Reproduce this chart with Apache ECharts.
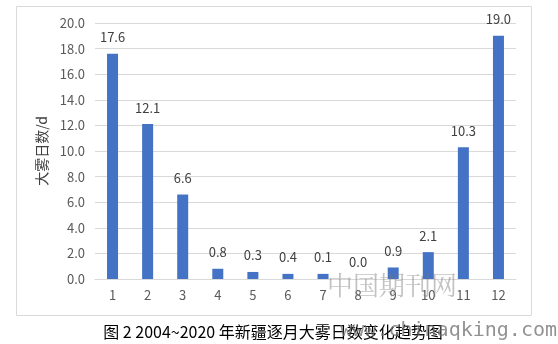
<!DOCTYPE html>
<html>
<head>
<meta charset="utf-8">
<script src="https://cdn.jsdelivr.net/npm/echarts@6/dist/echarts.min.js"></script>
<style>html,body{margin:0;padding:0;background:#fff;}#c{width:558px;height:344px;}</style>
</head>
<body>
<div id="c"></div>
<script>
var categories = ['1','2','3','4','5','6','7','8','9','10','11','12'];
var barValues = [17.6, 12.1, 6.6, 0.8, 0.55, 0.4, 0.4, 0.0, 0.9, 2.1, 10.3, 19.0];
var labelValues = [17.6, 12.1, 6.6, 0.8, 0.3, 0.4, 0.1, 0.0, 0.9, 2.1, 10.3, 19.0];
var yTicks = [0, 20, 2];
var axisName = '大雾日数/d';
var caption = '图 2 2004~2020 年新疆逐月大雾日数变化趋势图';
var wm1 = '中国期刊网';
var wm2 = 'www.chinaqking.com';

var font = '"Noto Sans CJK SC", "Noto Sans", sans-serif';
var chart = echarts.init(document.getElementById('c'), null, {renderer: 'canvas'});
chart.setOption({
  animation: false,
  backgroundColor: '#fff',
  textStyle: {fontFamily: font},
  grid: {left: 95, right: 42, top: 23, bottom: 65, containLabel: false},
  xAxis: {
    type: 'category',
    data: categories,
    axisLine: {lineStyle: {color: '#d9d9d9'}},
    axisTick: {show: false},
    axisLabel: {color: '#595959', fontSize: 13, margin: 10, fontFamily: font}
  },
  yAxis: {
    type: 'value',
    min: yTicks[0], max: yTicks[1], interval: yTicks[2],
    name: axisName,
    nameLocation: 'middle',
    nameRotate: 90,
    nameGap: 44,
    nameTextStyle: {color: '#404040', fontSize: 14, fontFamily: font},
    axisLine: {show: false},
    axisTick: {show: false},
    splitLine: {lineStyle: {color: '#d9d9d9'}},
    axisLabel: {color: '#595959', fontSize: 13, margin: 10, fontFamily: font,
      formatter: function (v) { return v.toFixed(1); }}
  },
  series: [{
    type: 'bar',
    data: barValues,
    barWidth: 11,
    itemStyle: {color: '#4472C4'},
    label: {
      show: true, position: 'top', distance: 10,
      color: '#404040', fontSize: 13, fontFamily: font,
      formatter: function (p) { return labelValues[p.dataIndex].toFixed(1); }
    }
  }],
  graphic: [
    {type: 'rect', shape: {x: 16.5, y: 6.5, width: 515, height: 309},
      style: {fill: 'none', stroke: '#d9d9d9', lineWidth: 1}, z: -1},
    {type: 'text', x: 273, y: 332,
      style: {text: caption, fill: '#000', fontSize: 16, fontFamily: font,
        textAlign: 'center', textVerticalAlign: 'middle'}},
    {type: 'text', x: 392, y: 285,
      style: {text: wm1, fill: 'rgba(120,120,120,0.45)', fontSize: 26,
        fontFamily: '"Noto Serif CJK SC", "Noto Sans CJK SC", serif',
        textAlign: 'center', textVerticalAlign: 'middle'}, z: 100},
    {type: 'text', x: 557, y: 331,
      style: {text: wm2, fill: 'rgba(110,110,110,0.75)', fontSize: 20,
        fontFamily: '"DejaVu Sans Mono", monospace',
        textAlign: 'right', textVerticalAlign: 'middle'}, z: 100}
  ]
});
</script>
</body>
</html>
